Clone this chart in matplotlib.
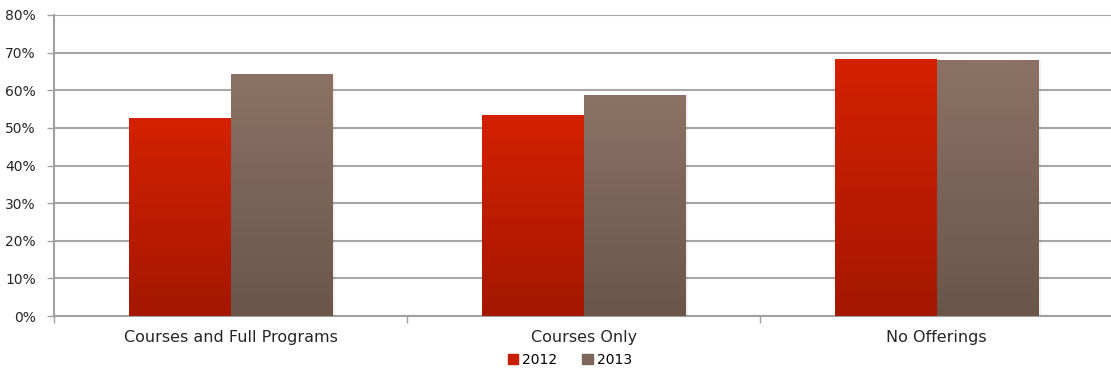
import matplotlib
matplotlib.use("Agg")
import matplotlib.pyplot as plt
import numpy as np
from matplotlib.colors import LinearSegmentedColormap
from matplotlib.patches import Patch

categories = ["Courses and Full Programs", "Courses Only", "No Offerings"]
series_names = ["2012", "2013"]
values_2012 = [52.4, 53.2, 68.3]
values_2013 = [64.3, 58.7, 68.0]
y_ticks = [0, 10, 20, 30, 40, 50, 60, 70, 80]

plt.rcParams['font.family'] = ['DejaVu Sans']

fig = plt.figure(figsize=(11.11, 3.72), dpi=100)
ax = fig.add_axes([0.0486, 0.1505, 0.9534, 0.8092])

x = np.arange(len(categories))
w = 0.2875
grad_red = LinearSegmentedColormap.from_list("r", ["#a41700", "#d42100"])
grad_brn = LinearSegmentedColormap.from_list("b", ["#6a5649", "#8b7265"])
colors_legend = ["#c81e00", "#7d675a"]

grad = np.linspace(0, 1, 256).reshape(-1, 1)
for vals, offs, cmap in [(values_2012, -w / 2, grad_red), (values_2013, w / 2, grad_brn)]:
    bars = ax.bar(x + offs, vals, w, color="none", zorder=3)
    for b in bars:
        x0, bw, h = b.get_x(), b.get_width(), b.get_height()
        # soft shadow
        ax.bar(x0 + bw / 2 + 0.008, h, bw, bottom=0, color="#000000", alpha=0.05, zorder=2.5)
        ax.imshow(grad, cmap=cmap, origin="lower", aspect="auto",
                  extent=[x0, x0 + bw, 0, h], zorder=3)

ax.set_xlim(-0.5, len(categories) - 0.5)
ax.set_ylim(0, 80)
ax.set_yticks(y_ticks)
ax.set_yticklabels([f"{t}%" for t in y_ticks], fontsize=10, color="#262626")
ax.set_xticks(x)
ax.set_xticklabels(categories, fontsize=11.5, color="#262626")
ax.set_xticks(np.arange(len(categories) + 1) - 0.5, minor=True)
ax.tick_params(axis="x", which="major", length=0, pad=10)
ax.tick_params(axis="x", which="minor", length=5, color="#a0a0a0", width=1)
ax.tick_params(axis="y", length=5, color="#a0a0a0", width=1, pad=8)
ax.yaxis.grid(True, color="#a6a6a6", linewidth=1.5, zorder=1)
ax.set_axisbelow(True)
for s in ["top", "right"]:
    ax.spines[s].set_visible(False)
for s in ["left", "bottom"]:
    ax.spines[s].set_color("#a0a0a0")
    ax.spines[s].set_linewidth(1.5)

handles = [Patch(color=c, label=n) for c, n in zip(colors_legend, series_names)]
fig.legend(handles=handles, loc="center", bbox_to_anchor=(0.513, 0.033), ncol=2,
           frameon=False, fontsize=10, handlelength=0.75, handleheight=0.75,
           handletextpad=0.3, columnspacing=1.8)

fig.savefig("out.png", dpi=100)
